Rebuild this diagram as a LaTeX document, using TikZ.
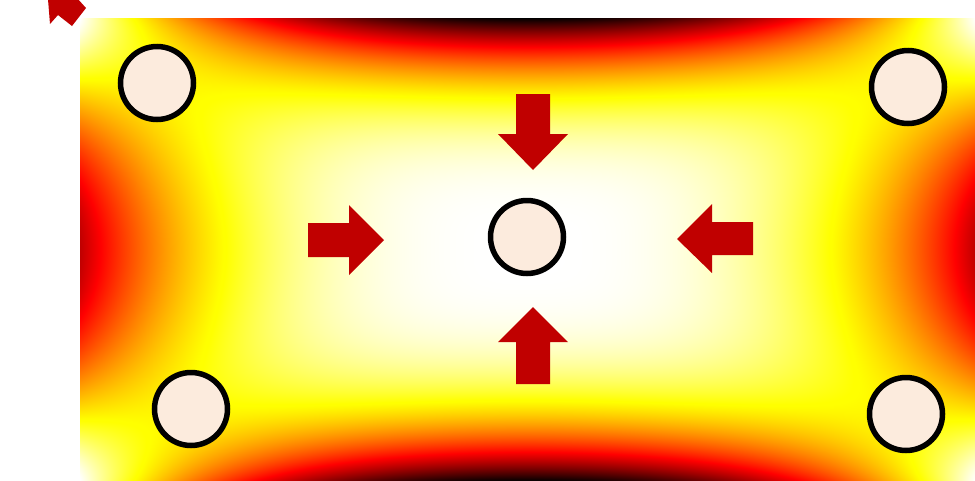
\documentclass[tikz,border=0pt]{standalone}
\definecolor{holefill}{HTML}{FCEBDD}
\definecolor{arrowred}{HTML}{C00000}
\pgfdeclarefunctionalshading{heat}{\pgfpoint{-50bp}{-50bp}}{\pgfpoint{50bp}{50bp}}{}{
25 div exch 25 div abs dup 1 gt {pop 1} if
exch abs dup 1 gt {pop 1} if
2 copy 3.5 exp exch dup mul 1 exch sub mul
3 1 roll
dup mul 1 exch sub 1.5 exp
exch 3 exp mul 0.72 mul
add 1 exch sub
dup 0.375 div dup 0 lt {pop 0} if dup 1 gt {pop 1} if
exch dup 0.375 sub 0.4 div dup 0 lt {pop 0} if dup 1 gt {pop 1} if
exch 0.78 sub 0.22 div dup 0 lt {pop 0} if dup 1 gt {pop 1} if
}
\begin{document}
\begin{tikzpicture}[x=1pt,y=-1pt,
  hole/.style={circle,draw=black,line width=5.5pt,fill=holefill,minimum size=73pt,inner sep=0pt},
  push/.style={fill=arrowred,draw=none}]
\useasboundingbox (0,0) rectangle (975,480);
\clip (0,0) rectangle (975,480);
\shade[shading=heat] (80,18) rectangle (975,481);
% pushing arrows
\fill[push] (516,94) -- (550,94) -- (550,134) -- (568,134) -- (533,170) -- (498,134) -- (516,134) -- cycle;
\fill[push] (308,223) -- (349,223) -- (349,205) -- (384,240) -- (349,275) -- (349,257) -- (308,257) -- cycle;
\fill[push] (753,222) -- (712,222) -- (712,204) -- (677,239) -- (712,273) -- (712,255) -- (753,255) -- cycle;
\fill[push] (516,384) -- (516,342) -- (498,342) -- (533,307) -- (568,342) -- (550,342) -- (550,384) -- cycle;
\fill[push] (47.9,-2) -- (50,24) -- (58,15) -- (72,26) -- (86,8) -- (77,-2) -- cycle;
% holes
\node[hole] (tl) at (157,83) {};
\node[hole] (tr) at (908,87) {};
\node[hole] (c) at (527,237) {};
\node[hole] (bl) at (191,409) {};
\node[hole] (br) at (906,414) {};
\end{tikzpicture}
\end{document}
